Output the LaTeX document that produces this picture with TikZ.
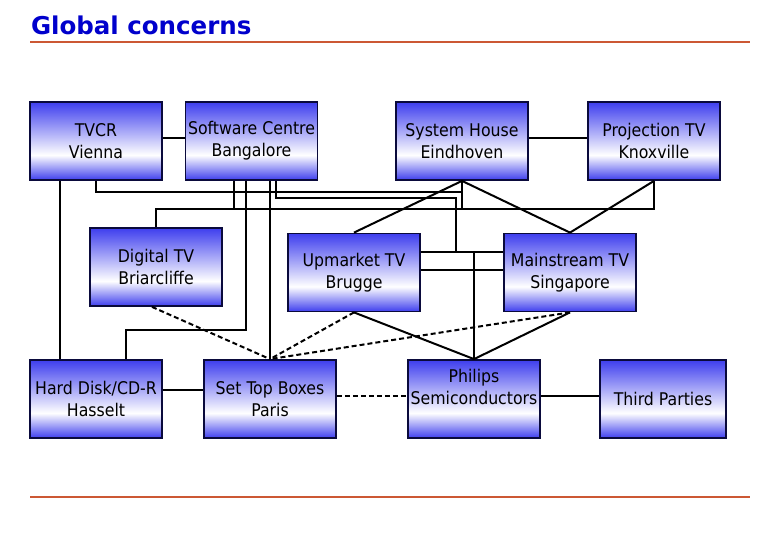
\documentclass[tikz,border=0pt]{standalone}
\usepackage{fontspec}
\setmainfont{DejaVu Sans Condensed}
\newfontfamily\titlefont{DejaVu Sans}
\usepackage{tikz}
\usetikzlibrary{positioning}

\definecolor{boxblue}{RGB}{62,62,238}
\definecolor{boxline}{RGB}{10,10,60}
\definecolor{titleblue}{RGB}{0,0,204}
\definecolor{rulecol}{RGB}{204,88,52}

\pgfdeclareverticalshading{boxfill}{100bp}{color(0bp)=(boxblue); color(25bp)=(boxblue);
  color(41bp)=(white); color(75bp)=(boxblue); color(100bp)=(boxblue)}

\begin{document}
\begin{tikzpicture}[x=1pt, y=-1pt, line width=2pt,
                  site/.style={draw=boxline, line width=1.8pt, shading=boxfill,
                  minimum width=132pt, minimum height=78pt, inner sep=0pt,
                  align=center, font=\fontsize{17.5}{22}\selectfont},
                  link/.style={draw=black, line width=2pt},
                  weak/.style={link, dash pattern=on 5pt off 3pt}]
                  \useasboundingbox (0,0) rectangle (780,540);

                  % Title and rules.
                  \node[anchor=base west, text=titleblue, inner sep=0pt,
                  font=\titlefont\bfseries\fontsize{24.5}{28}\selectfont]
                  (title) at (30,35) {Global concerns};
                  \coordinate (rtl) at (30,42);
                  \coordinate (rtr) at (750,42);
                  \coordinate (rbl) at (30,497);
                  \coordinate (rbr) at (750,497);
                  \draw[rulecol, line width=2pt] (rtl) -- (rtr);
                  \draw[rulecol, line width=2pt] (rbl) -- (rbr);

                  % The sites.
                  \node[site] (tvcr) at (96,141) {TVCR\\Vienna};
                  \node[site] (swc) at (251.5,141) {Software Centre\\Bangalore};
                  \node[site] (sysh) at (462,141) {System House\\Eindhoven};
                  \node[site] (proj) at (654,141) {Projection TV\\Knoxville};
                  \node[site] (dtv) at (156,267) {Digital TV\\Briarcliffe};
                  \node[site] (upm) at (354,272.5) {Upmarket TV\\Brugge};
                  \node[site] (mtv) at (570,272.5) {Mainstream TV\\Singapore};
                  \node[site] (hdd) at (96,399) {Hard Disk/CD-R\\Hasselt};
                  \node[site] (stb) at (270,399) {Set Top Boxes\\Paris};
                  \node[site, text depth=25pt] (semi) at (474,399)
                  {Philips\\Semiconductors};
                  \node[site, minimum width=126pt] (third) at (663,399) {Third Parties};

                  % Bus levels.
                  \coordinate (busa) at (0,192);
                  \coordinate (busb) at (0,198);
                  \coordinate (busc) at (0,209);
                  \coordinate (busd) at (0,330);
                  \coordinate (buse) at (0,252);
                  \coordinate (tap) at (456,0);
                  \coordinate (hddin) at (126,0);

                  % Solid links.
                  \draw[link] ([yshift=3pt]tvcr.east) -- ([yshift=3pt]swc.west);
                  \draw[link] ([yshift=3pt]sysh.east) -- ([yshift=3pt]proj.west);
                  \draw[link] ([yshift=9pt]hdd.east) -- ([yshift=9pt]stb.west);
                  \draw[link] ([yshift=3pt]semi.east) -- ([yshift=3pt]third.west);
                  \draw[link] ([xshift=-36pt]tvcr.south) -- ([xshift=-36pt]hdd.north);
                  \draw[link] (tvcr.south) |- (sysh.south |- busa) -- (sysh.south);
                  \draw[link] ([xshift=-17.5pt]swc.south) -- ([xshift=-17.5pt]swc.south |- busc);
                  \draw[link] ([xshift=-5.5pt]swc.south) |- (hddin |- busd) -- (hddin |- hdd.north);
                  \draw[link] (stb.north |- swc.south) -- (stb.north);
                  \draw[link] ([xshift=24.5pt]swc.south) |- (tap |- busb) -- (tap |- buse);
                  \draw[link] (dtv.north) |- (proj.south |- busc) -- (proj.south);
                  \draw[link] (sysh.south) -- (sysh.south |- busc);
                  \draw[link] (upm.east |- buse) -- (mtv.west |- buse);
                  \draw[link] ([yshift=2.5pt]upm.east) -- ([yshift=2.5pt]mtv.west);
                  \draw[link] (semi.north |- buse) -- (semi.north);
                  \draw[link] (sysh.south) -- (upm.north);
                  \draw[link] (sysh.south) -- (mtv.north);
                  \draw[link] (proj.south) -- (mtv.north);
                  \draw[link] (upm.south) -- (semi.north);
                  \draw[link] (mtv.south) -- (semi.north);

                  % Dashed links.
                  \draw[weak] ([xshift=-4pt]dtv.south) -- (stb.north);
                  \draw[weak] (upm.south) -- (stb.north);
                  \draw[weak] (mtv.south) -- (stb.north);
                  \draw[weak] ([yshift=3pt]stb.east) -- ([yshift=3pt]semi.west);

                \end{tikzpicture}
\end{document}
